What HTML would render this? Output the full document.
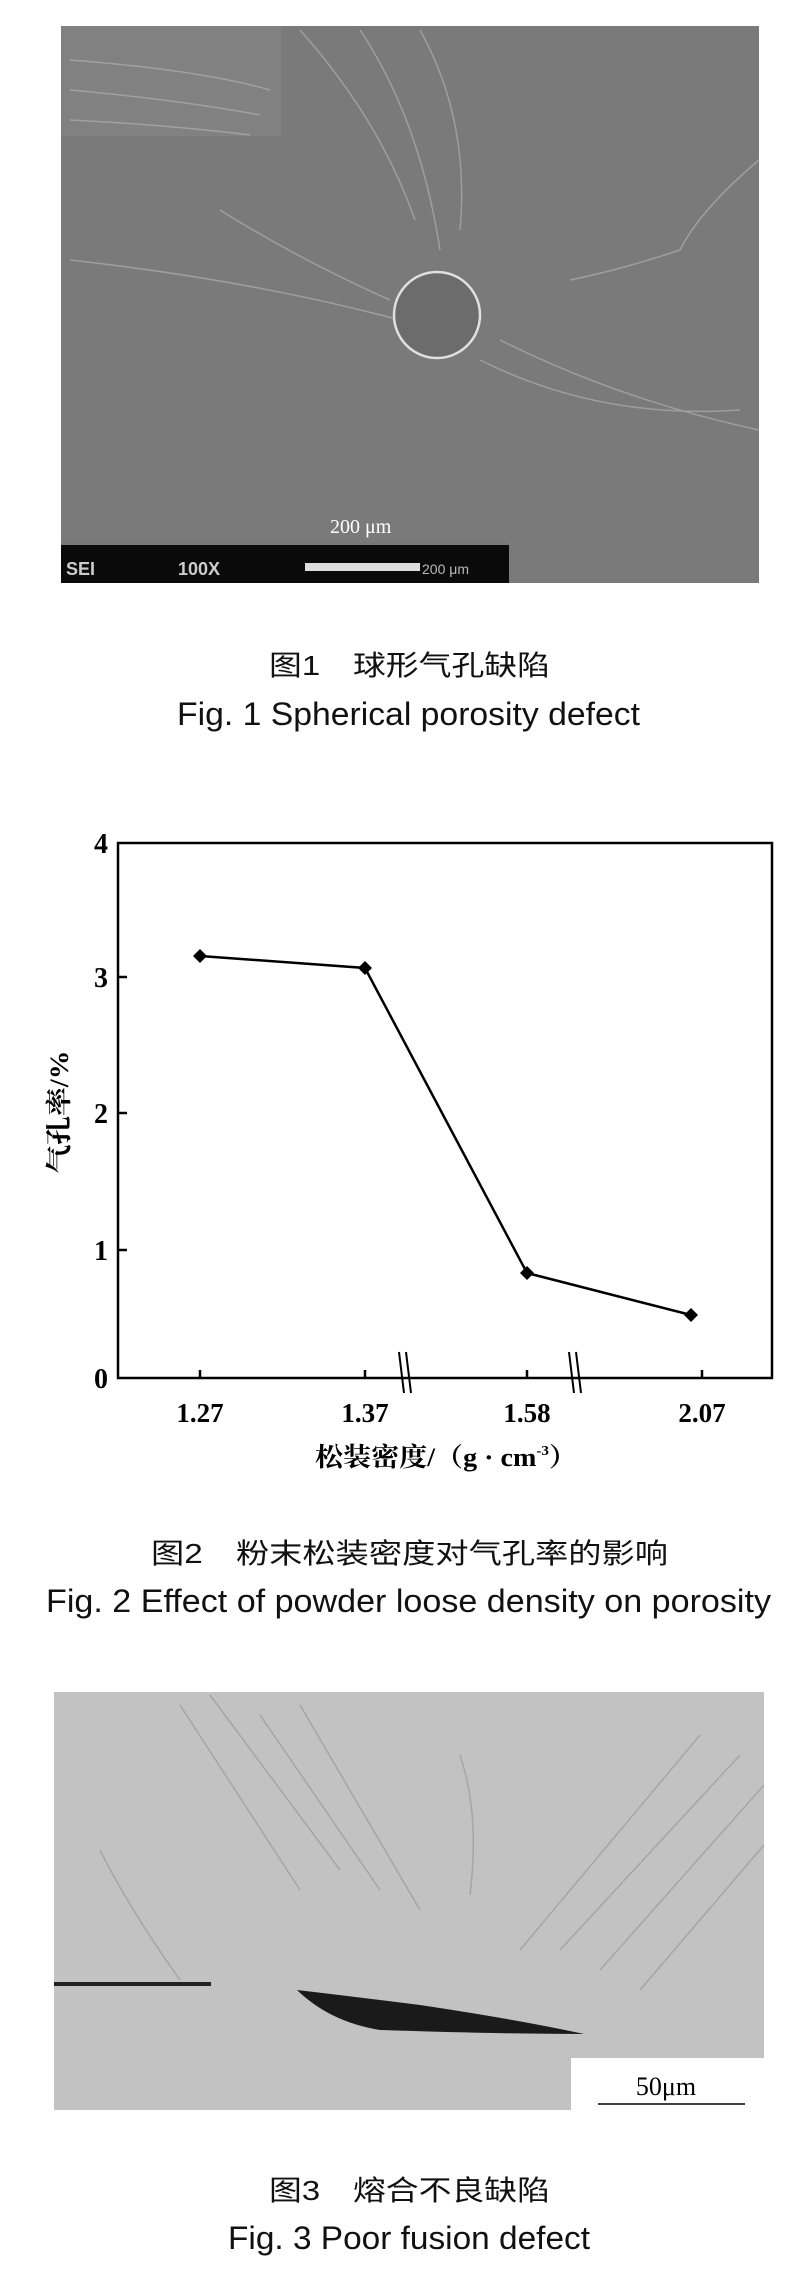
<!DOCTYPE html>
<html><head><meta charset="utf-8"><style>
html,body{margin:0;padding:0;background:#fff;}
svg{display:block;}
.cap{font-family:"Liberation Sans","Noto Sans CJK SC",sans-serif;fill:#111;}
.ser{font-family:"Liberation Serif","Noto Serif CJK SC",serif;font-weight:bold;fill:#000;}
</style></head><body>
<svg width="799" height="2281" viewBox="0 0 799 2281" xmlns="http://www.w3.org/2000/svg">
<!-- Fig 1 SEM image -->
<rect x="61" y="26" width="698" height="557" fill="#7a7a7a"/>
<rect x="61" y="26" width="220" height="110" fill="#858585" opacity="0.6"/>
<g stroke="#a8a8a8" stroke-width="1.5" fill="none" opacity="0.8">
<path d="M70 60 Q200 70 270 90"/><path d="M70 90 Q180 100 260 115"/><path d="M70 120 Q170 125 250 135"/>
<path d="M300 30 Q380 120 415 220"/><path d="M360 30 Q420 120 440 250"/><path d="M420 30 Q470 120 460 230"/>
<path d="M759 160 Q700 210 680 250 Q620 270 570 280"/><path d="M500 340 Q620 400 759 430"/>
<path d="M70 260 Q250 280 400 320"/><path d="M220 210 Q300 260 390 300"/><path d="M480 360 Q600 420 740 410"/>
</g>
<circle cx="437" cy="315" r="43" fill="#6c6c6c" stroke="#e0e0e0" stroke-width="2.5"/>
<text x="330" y="533" class="ser" style="font-weight:normal;fill:#fff" font-size="20">200 μm</text>
<rect x="61" y="542" width="448" height="41" fill="#0a0a0a"/>
<rect x="61" y="542" width="448" height="3" fill="#777"/>
<text x="66" y="575" font-family="Liberation Sans,sans-serif" font-weight="bold" font-size="18" fill="#ccc">SEI</text>
<text x="178" y="575" font-family="Liberation Sans,sans-serif" font-weight="bold" font-size="18" fill="#ccc">100X</text>
<rect x="305" y="563" width="115" height="8" fill="#ddd"/>
<text x="422" y="574" font-family="Liberation Sans,sans-serif" font-size="14" fill="#bbb">200 μm</text>
<text x="269" y="675" class="cap" font-size="28" textLength="281" lengthAdjust="spacingAndGlyphs">图1　球形气孔缺陷</text>
<text x="177" y="725" class="cap" font-size="32" textLength="463" lengthAdjust="spacingAndGlyphs">Fig. 1 Spherical porosity defect</text>

<!-- Fig 2 chart -->
<rect x="118" y="843" width="654" height="535" fill="none" stroke="#000" stroke-width="2.5"/>
<g stroke="#000" stroke-width="2.5">
<line x1="118" y1="977" x2="127" y2="977"/><line x1="118" y1="1113" x2="127" y2="1113"/><line x1="118" y1="1250" x2="127" y2="1250"/>
<line x1="200" y1="1378" x2="200" y2="1370"/><line x1="365" y1="1378" x2="365" y2="1370"/><line x1="527" y1="1378" x2="527" y2="1370"/><line x1="702" y1="1378" x2="702" y2="1370"/>
</g>
<g stroke="#000" stroke-width="2">
<line x1="399" y1="1352" x2="404" y2="1393"/><line x1="406" y1="1352" x2="411" y2="1393"/>
<line x1="569" y1="1352" x2="574" y2="1393"/><line x1="576" y1="1352" x2="581" y2="1393"/>
</g>
<polyline points="200,956 365,968 527,1273 691,1315" fill="none" stroke="#000" stroke-width="2.5"/>
<g fill="#000">
<path d="M200 949 L207 956 L200 963 L193 956Z"/><path d="M365 961 L372 968 L365 975 L358 968Z"/>
<path d="M527 1266 L534 1273 L527 1280 L520 1273Z"/><path d="M691 1308 L698 1315 L691 1322 L684 1315Z"/>
</g>
<g class="ser" font-size="28" text-anchor="end">
<text x="108" y="853">4</text><text x="108" y="987">3</text><text x="108" y="1123">2</text><text x="108" y="1260">1</text><text x="108" y="1388">0</text>
</g>
<g class="ser" font-size="27" text-anchor="middle">
<text x="200" y="1422">1.27</text><text x="365" y="1422">1.37</text><text x="527" y="1422">1.58</text><text x="702" y="1422">2.07</text>
</g>
<text x="446" y="1466" class="ser" font-size="26" text-anchor="middle" textLength="262" lengthAdjust="spacingAndGlyphs">松装密度/（g · cm<tspan font-size="14" dy="-11">-3</tspan><tspan dy="11">）</tspan></text>
<text transform="translate(68,1112) rotate(-90)" class="ser" font-size="26" text-anchor="middle" textLength="123" lengthAdjust="spacingAndGlyphs">气孔率/%</text>
<text x="151" y="1563" class="cap" font-size="28" textLength="517" lengthAdjust="spacingAndGlyphs">图2　粉末松装密度对气孔率的影响</text>
<text x="46" y="1612" class="cap" font-size="32" textLength="725" lengthAdjust="spacingAndGlyphs">Fig. 2 Effect of powder loose density on porosity</text>

<!-- Fig 3 micrograph -->
<rect x="54" y="1692" width="710" height="418" fill="#c2c2c2"/>
<g stroke="#9a9a9a" stroke-width="1.5" fill="none" opacity="0.7">
<path d="M180 1705 L300 1890"/><path d="M210 1695 L340 1870"/><path d="M260 1715 L380 1890"/><path d="M300 1705 L420 1910"/>
<path d="M520 1950 L700 1735"/><path d="M560 1950 L740 1755"/><path d="M600 1970 L764 1785"/><path d="M640 1990 L764 1845"/>
<path d="M100 1850 Q130 1910 180 1980"/><path d="M460 1755 Q480 1815 470 1895"/>
</g>
<rect x="54" y="1982" width="157" height="4" fill="#222"/>
<path d="M297 1990 Q340 1995 420 2005 Q520 2020 584 2034 Q500 2034 380 2030 Q330 2022 297 1990Z" fill="#1a1a1a"/>
<rect x="571" y="2058" width="193" height="52" fill="#fff"/>
<text x="666" y="2095" class="ser" style="font-weight:normal" font-size="26" text-anchor="middle">50μm</text>
<line x1="598" y1="2104" x2="745" y2="2104" stroke="#000" stroke-width="1.5"/>
<text x="269" y="2200" class="cap" font-size="28" textLength="281" lengthAdjust="spacingAndGlyphs">图3　熔合不良缺陷</text>
<text x="228" y="2249" class="cap" font-size="32" textLength="362" lengthAdjust="spacingAndGlyphs">Fig. 3 Poor fusion defect</text>
</svg>
</body></html>
